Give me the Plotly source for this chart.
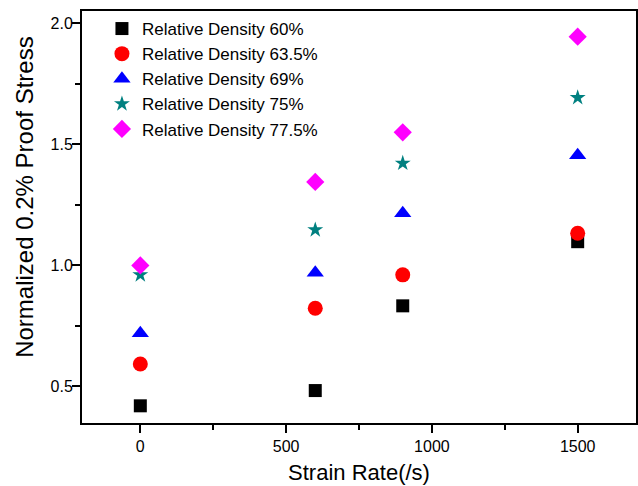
import plotly.graph_objects as go

strain_rate = [0, 600, 900, 1500]
rd_60 = [0.42, 0.483, 0.833, 1.098]
rd_63_5 = [0.593, 0.823, 0.961, 1.133]
rd_69 = [0.72, 0.97, 1.215, 1.455]
rd_75 = [0.961, 1.147, 1.422, 1.693]
rd_77_5 = [1.0, 1.345, 1.55, 1.945]

series = [
    ("Relative Density 60%", rd_60, "square", "#000000", 13),
    ("Relative Density 63.5%", rd_63_5, "circle", "#ff0000", 15),
    ("Relative Density 69%", rd_69, "triangle-up", "#0000ff", 15),
    ("Relative Density 75%", rd_75, "star", "#008080", 12),
    ("Relative Density 77.5%", rd_77_5, "diamond", "#ff00ff", 14),
]

fig = go.Figure()
for name, ys, sym, col, sz in series:
    fig.add_trace(go.Scatter(
        x=strain_rate, y=ys, mode="markers", name=name,
        marker=dict(symbol=sym, color=col, size=sz, line=dict(width=0)),
    ))

font_family = "Liberation Sans, Arial, sans-serif"
fig.update_layout(
    width=638, height=486,
    margin=dict(l=82, r=2, t=11, b=63, autoexpand=False),
    paper_bgcolor="white", plot_bgcolor="white",
    font=dict(family=font_family, color="#000000", size=16),
    showlegend=True,
    legend=dict(x=0.036, y=1.0, xanchor="left", yanchor="top",
                bgcolor="rgba(0,0,0,0)", font=dict(size=17),
                itemsizing="trace", tracegroupgap=0),
    annotations=[dict(
        text="Normalized 0.2% Proof Stress", textangle=-90,
        xref="paper", yref="paper", x=-0.1029, y=0.549,
        xanchor="center", yanchor="middle", showarrow=False,
        font=dict(size=24, family=font_family, color="#000000"),
    )],
)
fig.update_xaxes(
    range=[-200, 1700], tickvals=[0, 500, 1000, 1500],
    ticks="outside", ticklen=8, tickwidth=1.5, tickcolor="#000",
    minor=dict(tickvals=[250, 750, 1250], ticks="outside", ticklen=5, tickwidth=1.5, tickcolor="#000"),
    showline=True, linecolor="#000", linewidth=2, mirror=True,
    showgrid=False, zeroline=False, automargin=False,
    title=dict(text="Strain Rate(/s)", font=dict(size=22), standoff=10),
    tickfont=dict(size=16),
)
fig.update_yaxes(
    range=[0.349, 2.051], tickvals=[0.5, 1.0, 1.5, 2.0], ticktext=["0.5", "1.0", "1.5", "2.0"],
    ticks="outside", ticklen=8, tickwidth=1.5, tickcolor="#000",
    minor=dict(tickvals=[0.75, 1.25, 1.75], ticks="outside", ticklen=5, tickwidth=1.5, tickcolor="#000"),
    showline=True, linecolor="#000", linewidth=2, mirror=True,
    showgrid=False, zeroline=False, automargin=False,
    ticklabelstandoff=-4,
    tickfont=dict(size=16),
)

fig.write_html("out.html", config={"displayModeBar": False},
               post_script="document.body.style.margin='0';document.body.style.overflow='hidden';")
